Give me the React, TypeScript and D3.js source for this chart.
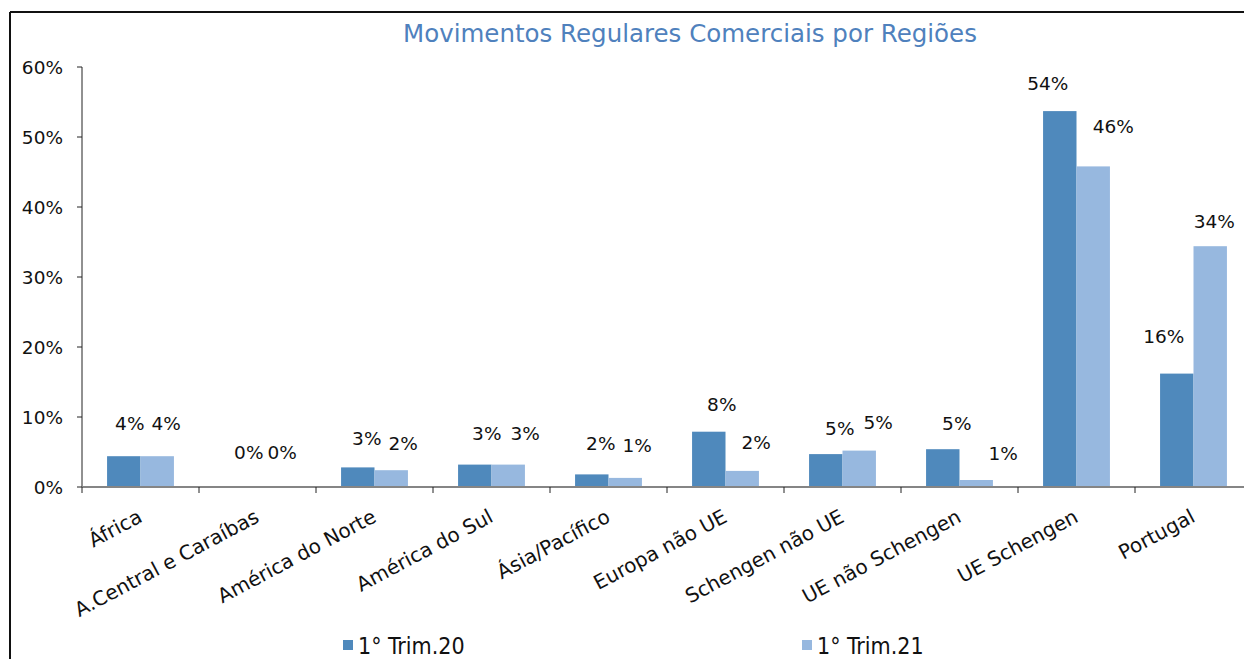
import React from "react";
import * as d3 from "d3";

const title = "Movimentos Regulares Comerciais por Regiões";
const categories = [
  "África",
  "A.Central e Caraíbas",
  "América do Norte",
  "América do Sul",
  "Ásia/Pacífico",
  "Europa não UE",
  "Schengen não UE",
  "UE não Schengen",
  "UE Schengen",
  "Portugal",
];
const seriesNames = ["1° Trim.20", "1° Trim.21"];
const trim20 = [4.4, 0.1, 2.8, 3.2, 1.8, 7.9, 4.7, 5.4, 53.7, 16.2];
const trim21 = [4.4, 0.1, 2.4, 3.2, 1.3, 2.3, 5.2, 1.0, 45.8, 34.4];
const yTicks = [0, 10, 20, 30, 40, 50, 60];
const colors = ["#4F89BC", "#97B8DF"];

// label nudges (as placed in the original chart): horizontal shift and lift above bar top
const labelDx20 = [6, 8, 9, 12, 9, 13, 14, 14, -12, -13];
const labelDx21 = [9, 8, 12, 17, 12, 14, 19, 27, 20, 4];
const labelLift20 = [33, 34, 29, 31, 31, 27, 26, 26, 28, 37];
const labelLift21 = [33, 34, 27, 31, 32, 28, 28, 27, 40, 25];

const W = 1244;
const H = 659;
const font = "'DejaVu Sans', Verdana, sans-serif";

export default function App() {
  const x0 = d3.scaleBand<string>().domain(categories).range([82, 1252]).paddingInner(0).paddingOuter(0);
  const x1 = d3
    .scaleBand<number>()
    .domain([0, 1])
    .range([0, x0.bandwidth()])
    .paddingInner(0)
    .paddingOuter(0.75);
  const y = d3.scaleLinear().domain([0, 60]).range([487, 67]);

  const series = [trim20, trim21];
  const dxs = [labelDx20, labelDx21];
  const lifts = [labelLift20, labelLift21];
  const boundaries = categories.map((c) => x0(c) as number).concat([(x0(categories[categories.length - 1]) as number) + x0.bandwidth()]);

  return (
    <svg width={W} height={H} style={{ position: "absolute", left: 0, top: 0, background: "#fff" }} fontFamily={font}>
      <rect x={0} y={0} width={W} height={H} fill="#fff" />
      {/* frame */}
      <line x1={10} y1={12} x2={W} y2={12} stroke="#111" strokeWidth={2} />
      <line x1={10} y1={12} x2={10} y2={H} stroke="#111" strokeWidth={2} />

      <text x={690} y={42} textAnchor="middle" fontSize={24.5} fill="#4F81BD">
        {title}
      </text>

      {/* y axis */}
      <line x1={82} y1={y(60)} x2={82} y2={y(0)} stroke="#222" strokeWidth={1} />
      {yTicks.map((t) => (
        <g key={t}>
          <line x1={77} x2={82} y1={y(t)} y2={y(t)} stroke="#222" strokeWidth={1} />
          <text x={63} y={y(t) + 6.5} textAnchor="end" fontSize={18.5} fill="#111">
            {t}%
          </text>
        </g>
      ))}

      {/* bars */}
      {series.map((vals, si) =>
        vals.map((v, i) => {
          const bx = (x0(categories[i]) as number) + (x1(si) as number);
          return (
            <rect
              key={`b${si}-${i}`}
              x={bx}
              y={y(v)}
              width={x1.bandwidth()}
              height={y(0) - y(v)}
              fill={colors[si]}
            />
          );
        })
      )}

      {/* x axis */}
      <line x1={82} x2={W} y1={y(0)} y2={y(0)} stroke="#858585" strokeWidth={2} />
      {boundaries.map((bx, i) => (
        <line key={`t${i}`} x1={bx} x2={bx} y1={y(0)} y2={y(0) + 6} stroke="#222" strokeWidth={1} />
      ))}

      {/* data labels */}
      {series.map((vals, si) =>
        vals.map((v, i) => {
          const cx = (x0(categories[i]) as number) + (x1(si) as number) + x1.bandwidth() / 2 + dxs[si][i];
          const cy = y(v) - lifts[si][i];
          return (
            <text key={`l${si}-${i}`} x={cx} y={cy + 6.5} textAnchor="middle" fontSize={18.5} fill="#111">
              {Math.round(v)}%
            </text>
          );
        })
      )}

      {/* category labels */}
      {categories.map((c) => {
        const cx = (x0(c) as number) + x0.bandwidth() / 2 + 3;
        const cy = 521;
        return (
          <text key={c} x={cx} y={cy} textAnchor="end" fontSize={20} fill="#111" transform={`rotate(-28, ${cx}, ${cy})`}>
            {c}
          </text>
        );
      })}

      {/* legend */}
      {seriesNames.map((n, i) => {
        const lx = [343, 802][i];
        return (
          <g key={n}>
            <rect x={lx} y={640} width={10} height={10} fill={colors[i]} />
            <text
              x={lx + 15}
              y={654}
              fontSize={23}
              fill="#111"
              fontFamily="'DejaVu Sans Condensed', 'DejaVu Sans', sans-serif"
              style={{ fontStretch: "condensed" }}
            >
              {n}
            </text>
          </g>
        );
      })}
    </svg>
  );
}
